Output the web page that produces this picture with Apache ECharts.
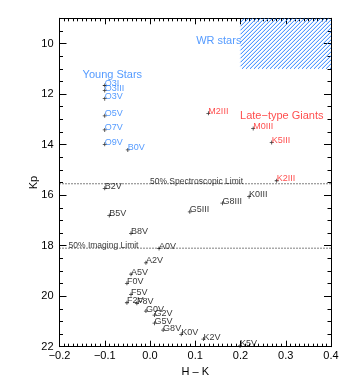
<!DOCTYPE html>
<html><head><meta charset="utf-8">
<script src="https://cdn.jsdelivr.net/npm/echarts@6/dist/echarts.min.js"></script>
<style>html,body{margin:0;padding:0;background:#fff}#c{width:349px;height:388px}</style>
</head><body><div id="c"></div>
<script>
const youngNames = ['O3I','O3III','O3V','O5V','O7V','O9V','B0V'];
const youngHK = [-0.10,-0.10,-0.10,-0.10,-0.10,-0.10,-0.049];
const youngKp = [11.66,11.86,12.18,12.86,13.42,13.99,14.21];
const dwarfNames = ['B2V','B5V','B8V','A0V','A2V','A5V','F0V','F5V','F2V','F8V','G0V','G2V','G5V','G8V','K0V','K2V','K5V'];
const dwarfHK = [-0.10,-0.090,-0.042,0.020,-0.009,-0.042,-0.051,-0.042,-0.051,-0.029,-0.009,0.010,0.010,0.029,0.069,0.118,0.199];
const dwarfKp = [15.73,16.81,17.51,18.11,18.68,19.13,19.49,19.93,20.26,20.28,20.59,20.75,21.07,21.34,21.51,21.70,21.97];
const lateNames = ['M2III','M0III','K5III','K2III'];
const lateHK = [0.129,0.228,0.269,0.280];
const lateKp = [12.76,13.36,13.92,15.43];
const giantNames = ['K0III','G8III','G5III'];
const giantHK = [0.219,0.160,0.088];
const giantKp = [16.06,16.32,16.66];
const limitNames = ['50% Spectroscopic Limit','50% Imaging Limit'];
const limitKp = [15.55,18.1];
const limitLabelHK = [0.0,-0.18];
const lineHK = [-0.2,0.4];
const regionNames = ['Young Stars','Late\u2212type Giants','WR stars'];
const regionHK = [-0.149,0.199,0.202];
const regionKp = [11.35,12.99,10.0];
const wrHK = [0.2,0.4];
const wrKp = [9,11];
const yTicks = [10,12,14,16,18,20,22];

const FONT = "'Liberation Sans', Arial, Helvetica, sans-serif";
const BLUE = '#2a82ff';
const RED = '#ff1f1f';
const HATCH_STEP = 4;

const plus = 'path://M2,0H3V2H5V3H3V5H2V3H0V2H2Z';

function starSeries(names, hk, kp, labelColor) {
  return {
    type: 'scatter', xAxisIndex: 0, yAxisIndex: 0, silent: true,
    symbol: plus, symbolSize: 4,
    itemStyle: {color: '#000'},
    data: names.map((n,i)=>({name:n, value:[hk[i], kp[i]]})),
    label: {show:true, formatter:'{b}', position:[2,4.5], align:'left', verticalAlign:'bottom',
      color: labelColor, fontSize: 9, fontFamily: FONT},
    z: 5
  };
}

const series = [
  {
    type: 'custom', xAxisIndex:0, yAxisIndex:0, silent:true,
    data: [[wrHK[0], wrKp[0], wrHK[1], wrKp[1]]],
    renderItem: function(params, api){
      const p0 = api.coord([api.value(0), api.value(1)]);
      const p1 = api.coord([api.value(2), api.value(3)]);
      const x0 = Math.min(p0[0],p1[0]), y0 = Math.min(p0[1],p1[1]);
      const w = Math.abs(p1[0]-p0[0]), h = Math.abs(p1[1]-p0[1]);
      const children = [];
      for (let s = -h; s < w; s += HATCH_STEP) {
        const tmin = Math.max(0, -s), tmax = Math.min(h, w - s);
        if (tmax <= tmin) continue;
        children.push({type:'line', shape:{x1:x0+s+tmin, y1:y0+h-tmin, x2:x0+s+tmax, y2:y0+h-tmax},
          style:{stroke:BLUE, lineWidth:1}});
      }
      return {type:'group', children: children};
    },
    z: 1
  },
  ...limitKp.map(k=>({
    type:'line', xAxisIndex:0, yAxisIndex:0, silent:true, symbol:'none',
    data: lineHK.map(h=>[h,k]),
    lineStyle:{color:'#000', width:1, type:[1,2]}, z:2
  })),
  {
    type:'scatter', xAxisIndex:0, yAxisIndex:0, silent:true, symbolSize:0,
    data: limitNames.map((n,i)=>({name:n, value:[limitLabelHK[i], limitKp[i]]})),
    label:{show:true, formatter:'{b}', position:[0,2], align:'left', verticalAlign:'bottom',
      color:'#000', fontSize:8.5, fontFamily:FONT}, z:3
  },
  starSeries(youngNames, youngHK, youngKp, BLUE),
  starSeries(dwarfNames, dwarfHK, dwarfKp, '#000'),
  starSeries(lateNames, lateHK, lateKp, RED),
  starSeries(giantNames, giantHK, giantKp, '#000'),
  {
    type:'scatter', xAxisIndex:0, yAxisIndex:0, silent:true, symbolSize:0,
    data: regionNames.map((n,i)=>({name:n, value:[regionHK[i], regionKp[i]],
      label:{align: i===2 ? 'right':'left', color: i===1 ? RED : BLUE}})),
    label:{show:true, formatter:'{b}', position:[0,2.5], verticalAlign:'bottom',
      fontSize:11, fontFamily:FONT}, z:4
  }
];

const axisLine = {show:true, onZero:false, lineStyle:{color:'#000', width:1}};
function xAx(pos, labels) {
  return {
    type:'value', position:pos, min:-0.2, max:0.4, interval:0.1,
    axisLine: axisLine,
    axisTick:{show:true, inside:true, length:6, lineStyle:{color:'#000'}},
    minorTick:{show:true, splitNumber:10, length:3, lineStyle:{color:'#000'}},
    splitLine:{show:false}, minorSplitLine:{show:false},
    axisLabel:{show:labels, color:'#000', fontSize:11, fontFamily:FONT, margin:4,
      formatter: v => (v<0 ? '\u2212' : '') + Math.abs(v).toFixed(1)},
    name: labels ? 'H \u2013 K' : '', nameLocation:'middle', nameGap:17,
    nameTextStyle:{color:'#000', fontSize:11, fontFamily:FONT}
  };
}
function yMajor(pos, labels) {
  return {
    type:'value', position:pos, inverse:true, min:9, max:22, splitNumber:6,
    axisLine: axisLine,
    axisTick:{show:true, inside:true, length:7, lineStyle:{color:'#000'}},
    splitLine:{show:false},
    axisLabel:{show:labels, color:'#000', fontSize:11, fontFamily:FONT, margin:6,
      formatter: v => yTicks.indexOf(v) >= 0 ? String(v) : ''},
    name: labels ? 'Kp' : '', nameLocation:'middle', nameGap:20, nameMoveOverlap:false,
    nameTextStyle:{color:'#000', fontSize:11, fontFamily:FONT}
  };
}
function yMinor(pos) {
  return {
    type:'value', position:pos, inverse:true, min:9, max:22, interval:0.5,
    axisLine:{show:false, onZero:false},
    axisTick:{show:true, inside:true, length:3.5, lineStyle:{color:'#000'}},
    splitLine:{show:false}, axisLabel:{show:false}
  };
}

const chart = echarts.init(document.getElementById('c'), null, {renderer:'canvas'});
chart.setOption({
  animation:false,
  backgroundColor:'#fff',
  grid:{left:59.5, right:18, top:18.3, bottom:41.3, containLabel:false},
  xAxis:[xAx('bottom', true), xAx('top', false)],
  yAxis:[yMajor('left', true), yMinor('left'), yMajor('right', false), yMinor('right')],
  series: series
});
</script></body></html>
